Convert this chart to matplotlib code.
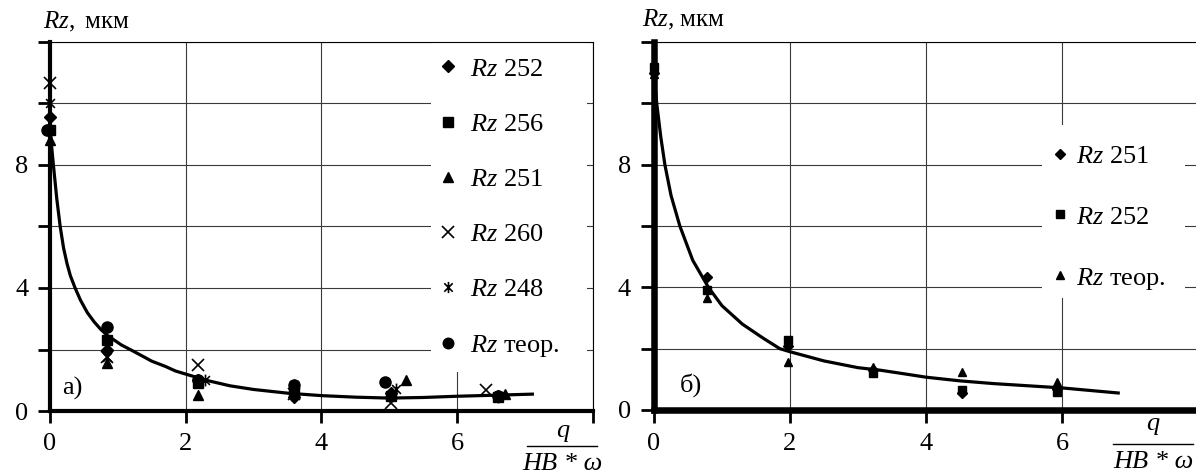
import matplotlib
matplotlib.use('Agg')
import matplotlib.pyplot as plt
from matplotlib.path import Path
from matplotlib.patches import Rectangle
from matplotlib.lines import Line2D

plt.rcParams['font.family'] = ['Liberation Serif', 'DejaVu Serif']
plt.rcParams['mathtext.fontset'] = 'custom'
plt.rcParams['mathtext.rm'] = 'Liberation Serif'
plt.rcParams['mathtext.it'] = 'Liberation Serif:italic'

# ---------------- data: panel a) ----------------
a_x252 = [0.0, 0.84, 2.18, 3.6, 5.03, 6.6]
a_y252 = [9.56, 2.0, 1.0, 0.45, 0.6, 0.5]
a_x256 = [0.0, 0.84, 2.18, 3.6, 5.03, 6.6]
a_y256 = [9.14, 2.3, 0.9, 0.6, 0.5, 0.45]
a_x251 = [0.0, 0.84, 2.18, 3.6, 5.25, 6.7]
a_y251 = [8.8, 1.56, 0.52, 0.7, 1.0, 0.55]
a_x260 = [0.0, 0.84, 2.18, 3.6, 5.03, 6.43]
a_y260 = [10.67, 1.76, 1.5, 0.55, 0.25, 0.68]
a_x248 = [0.0, 0.84, 2.28, 3.6, 5.1, 6.6]
a_y248 = [10.0, 1.76, 1.0, 0.85, 0.7, 0.45]
a_xteor = [-0.04, 0.84, 2.18, 3.6, 4.93, 6.6]
a_yteor = [9.14, 2.73, 1.0, 0.85, 0.93, 0.5]
a_curve_x = [0.0, 0.02, 0.05, 0.1, 0.15, 0.2, 0.25, 0.3, 0.37, 0.45, 0.55, 0.65,
             0.75, 0.85, 0.93, 1.05, 1.18, 1.35, 1.5, 1.7, 1.85, 2.0, 2.3, 2.65,
             3.0, 3.5, 4.0, 4.5, 5.0, 5.5, 6.0, 6.5, 7.13]
a_curve_y = [9.4, 8.7, 8.0, 6.9, 6.0, 5.3, 4.8, 4.4, 4.0, 3.6, 3.2, 2.9,
             2.65, 2.45, 2.33, 2.15, 2.0, 1.8, 1.62, 1.45, 1.3, 1.2, 1.0, 0.82,
             0.7, 0.58, 0.5, 0.45, 0.42, 0.44, 0.48, 0.51, 0.55]

# ---------------- data: panel б) ----------------
b_x251 = [0.0, 0.78, 1.97, 3.22, 4.53, 5.93]
b_y251 = [11.0, 4.33, 2.1, 1.3, 0.55, 0.7]
b_x252 = [0.0, 0.78, 1.97, 3.22, 4.53, 5.93]
b_y252 = [11.2, 3.9, 2.28, 1.2, 0.65, 0.58]
b_xteor = [0.0, 0.78, 1.97, 3.22, 4.53, 5.93]
b_yteor = [10.95, 3.64, 1.56, 1.4, 1.24, 0.9]
b_curve_x = [0.0, 0.04, 0.1, 0.16, 0.25, 0.38, 0.57, 0.8, 1.0, 1.3, 1.6, 1.85,
             2.0, 2.5, 3.0, 3.32, 3.62, 4.0, 4.5, 5.0, 5.5, 6.0, 6.4, 6.85]
b_curve_y = [11.0, 10.0, 8.9, 8.0, 7.0, 6.0, 4.88, 4.0, 3.4, 2.8, 2.35, 2.0,
             1.9, 1.6, 1.38, 1.3, 1.2, 1.07, 0.95, 0.86, 0.79, 0.72, 0.64, 0.55]

y_ticks = [0, 2, 4, 6, 8, 10, 12]
y_tick_labels = ['0', '', '4', '', '8', '', '']
x_ticks = [0, 2, 4, 6, 8]
x_tick_labels = ['0', '2', '4', '6', '']

a_labels = [r'$\mathit{Rz}$ 252', r'$\mathit{Rz}$ 256', r'$\mathit{Rz}$ 251',
            r'$\mathit{Rz}$ 260', r'$\mathit{Rz}$ 248', r'$\mathit{Rz}$ теор.']
b_labels = [r'$\mathit{Rz}$ 251', r'$\mathit{Rz}$ 252', r'$\mathit{Rz}$ теор.']

FS = 19
W, H = 1196, 474

star = Path([(0, -1), (0, 1), (-0.75, -0.75), (0.75, 0.75), (-0.75, 0.75), (0.75, -0.75)],
            [Path.MOVETO, Path.LINETO, Path.MOVETO, Path.LINETO, Path.MOVETO, Path.LINETO])

fig = plt.figure(figsize=(W / 100, H / 100), dpi=100)
ax1 = fig.add_axes([50 / W, 1 - 411 / H, 543 / W, 369 / H])
ax2 = fig.add_axes([654 / W, 1 - 410 / H, 544 / W, 368 / H])


def style_axis(ax, spine_w, tick_len, tick_w, show_right):
    ax.set_xlim(0, 8)
    ax.set_ylim(0, 12)
    ax.set_xticks(x_ticks)
    ax.set_xticklabels(x_tick_labels)
    ax.set_yticks(y_ticks)
    ax.set_yticklabels(y_tick_labels)
    ax.set_axisbelow(True)
    ax.grid(True, color='#3a3a3a', lw=0.8)
    ax.tick_params(direction='out', length=tick_len, width=tick_w, labelsize=FS,
                   colors='black')
    ax.tick_params(axis='y', pad=7)
    ax.tick_params(axis='x', pad=7)
    ax.spines['left'].set_linewidth(spine_w)
    ax.spines['bottom'].set_linewidth(spine_w)
    ax.spines['top'].set_linewidth(0.8)
    ax.spines['right'].set_linewidth(0.8)
    ax.spines['right'].set_visible(show_right)
    for lab in ax.get_xticklabels() + ax.get_yticklabels():
        lab.set_fontsize(FS)


style_axis(ax1, 3.0, 8.5, 2.0, True)
style_axis(ax2, 4.7, 9.5, 2.0, False)

# ---- panel a ----
ms = 7.5
kw = dict(ls='none', color='black', clip_on=False, zorder=4)
h1 = ax1.plot(a_x252, a_y252, marker='D', ms=ms * 0.85, label=a_labels[0], **kw)[0]
h2 = ax1.plot(a_x256, a_y256, marker='s', ms=ms, label=a_labels[1], **kw)[0]
h3 = ax1.plot(a_x251, a_y251, marker='^', ms=ms, label=a_labels[2], **kw)[0]
h4 = ax1.plot(a_x260, a_y260, marker='x', ms=ms + 1, mew=1.2, label=a_labels[3], **kw)[0]
h5 = ax1.plot(a_x248, a_y248, marker=star, ms=ms + 1, mew=1.2, label=a_labels[4], **kw)[0]
h6 = ax1.plot(a_xteor, a_yteor, marker='o', ms=ms + 0.5, label=a_labels[5], **kw)[0]
ax1.plot(a_curve_x, a_curve_y, color='black', lw=2.3, zorder=3, clip_on=False,
         solid_capstyle='butt', solid_joinstyle='round')

ax1.add_patch(Rectangle((0.702, 0.106), 0.287, 0.891, transform=ax1.transAxes,
                        facecolor='white', edgecolor='none', zorder=1.8))
leg1 = ax1.legend(handles=[h1, h2, h3, h4, h5, h6], loc='upper left',
                  bbox_to_anchor=(0.703, 0.973), borderaxespad=0, frameon=False,
                  fontsize=FS, handlelength=0.8, handletextpad=0.45,
                  labelspacing=1.2, borderpad=0.2, markerscale=0.95)
leg1.set_zorder(5)
ax1.text(0.022, 0.062, 'а)', transform=ax1.transAxes, fontsize=FS,
         ha='left', va='center')

# ---- panel b ----
ms2 = 6
g1 = ax2.plot(b_x251, b_y251, marker='D', ms=ms2 * 0.85, label=b_labels[0], **kw)[0]
g2 = ax2.plot(b_x252, b_y252, marker='s', ms=ms2, label=b_labels[1], **kw)[0]
g3 = ax2.plot(b_xteor, b_yteor, marker='^', ms=ms2, label=b_labels[2], **kw)[0]
ax2.plot(b_curve_x, b_curve_y, color='black', lw=2.3, zorder=3, clip_on=False,
         solid_capstyle='butt', solid_joinstyle='round')

ax2.add_patch(Rectangle((0.713, 0.304), 0.263, 0.47, transform=ax2.transAxes,
                        facecolor='white', edgecolor='none', zorder=1.8))
leg2 = ax2.legend(handles=[g1, g2, g3], loc='upper left',
                  bbox_to_anchor=(0.717, 0.735), borderaxespad=0, frameon=False,
                  fontsize=FS, handlelength=0.8, handletextpad=0.2,
                  labelspacing=1.4, borderpad=0.2)
leg2.set_zorder(5)
ax2.text(0.048, 0.068, 'б)', transform=ax2.transAxes, fontsize=FS,
         ha='left', va='center')

# ---- axis titles ----
fig.text(43 / W, 1 - 22 / H, r'$\mathit{Rz,}$ мкм', fontsize=FS - 1, ha='left', va='center')
fig.text(642 / W, 1 - 20 / H, r'$\mathit{Rz}$, мкм', fontsize=FS - 1, ha='left', va='center')

for cx, qy, ly, x0, x1, hy in [(563, 431, 446, 527, 597, 464), (1153, 424, 444, 1113, 1193, 462)]:
    fig.text(cx / W, 1 - qy / H, 'q', fontsize=FS, style='italic', ha='center', va='center')
    fig.add_artist(Line2D([x0 / W, x1 / W], [1 - ly / H, 1 - ly / H],
                          transform=fig.transFigure, color='black', lw=1.0))
    fig.text((x0 + x1) / 2 / W, 1 - hy / H, 'HB * ω', fontsize=FS, style='italic',
             ha='center', va='center')

fig.savefig('out.png', dpi=100)
